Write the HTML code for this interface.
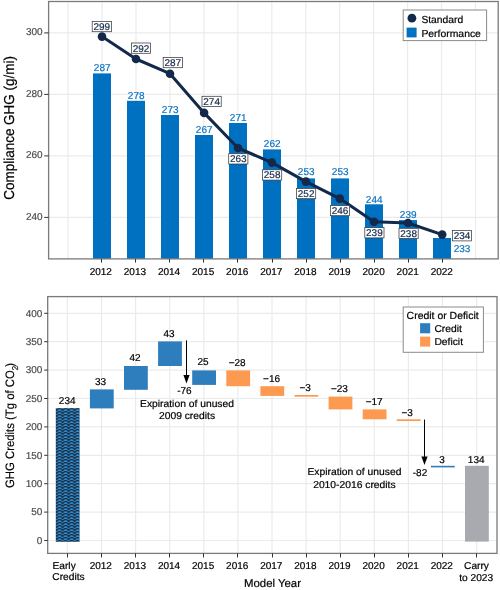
<!DOCTYPE html><html><head><meta charset="utf-8"><style>html,body{margin:0;padding:0;background:#fff;width:500px;height:590px;overflow:hidden}svg{display:block;will-change:transform}text{font-family:"Liberation Sans",sans-serif;text-rendering:geometricPrecision}</style></head><body>
<svg width="500" height="590" viewBox="0 0 500 590">
<defs><pattern id="wave" patternUnits="userSpaceOnUse" x="56.6" y="408.1" width="6" height="3"><rect width="6" height="3" fill="#2a8fd8"/><path d="M-0.2,2.9 C1.6,-0.3 4.4,-0.3 6.2,2.9" stroke="#1a1d26" stroke-width="1.15" fill="none"/></pattern></defs>
<rect width="500" height="590" fill="#fff"/>
<line x1="48.6" x2="498.2" y1="32.9" y2="32.9" stroke="#ebebeb" stroke-width="1.2"/>
<line x1="48.6" x2="498.2" y1="94.4" y2="94.4" stroke="#ebebeb" stroke-width="1.2"/>
<line x1="48.6" x2="498.2" y1="155.9" y2="155.9" stroke="#ebebeb" stroke-width="1.2"/>
<line x1="48.6" x2="498.2" y1="217.4" y2="217.4" stroke="#ebebeb" stroke-width="1.2"/>
<line x1="68.1" x2="68.1" y1="1.5" y2="258.9" stroke="#ebebeb" stroke-width="1.2"/>
<line x1="102.05" x2="102.05" y1="1.5" y2="258.9" stroke="#ebebeb" stroke-width="1.2"/>
<line x1="136" x2="136" y1="1.5" y2="258.9" stroke="#ebebeb" stroke-width="1.2"/>
<line x1="169.95" x2="169.95" y1="1.5" y2="258.9" stroke="#ebebeb" stroke-width="1.2"/>
<line x1="203.9" x2="203.9" y1="1.5" y2="258.9" stroke="#ebebeb" stroke-width="1.2"/>
<line x1="237.85" x2="237.85" y1="1.5" y2="258.9" stroke="#ebebeb" stroke-width="1.2"/>
<line x1="271.8" x2="271.8" y1="1.5" y2="258.9" stroke="#ebebeb" stroke-width="1.2"/>
<line x1="305.75" x2="305.75" y1="1.5" y2="258.9" stroke="#ebebeb" stroke-width="1.2"/>
<line x1="339.7" x2="339.7" y1="1.5" y2="258.9" stroke="#ebebeb" stroke-width="1.2"/>
<line x1="373.65" x2="373.65" y1="1.5" y2="258.9" stroke="#ebebeb" stroke-width="1.2"/>
<line x1="407.6" x2="407.6" y1="1.5" y2="258.9" stroke="#ebebeb" stroke-width="1.2"/>
<line x1="441.55" x2="441.55" y1="1.5" y2="258.9" stroke="#ebebeb" stroke-width="1.2"/>
<line x1="475.5" x2="475.5" y1="1.5" y2="258.9" stroke="#ebebeb" stroke-width="1.2"/>
<rect x="93" y="73.4" width="18" height="185.5" fill="#0070c0"/>
<rect x="127" y="100.8" width="18" height="158.1" fill="#0070c0"/>
<rect x="161" y="115" width="18" height="143.9" fill="#0070c0"/>
<rect x="195" y="135" width="18" height="123.9" fill="#0070c0"/>
<rect x="229" y="123" width="18" height="135.9" fill="#0070c0"/>
<rect x="263" y="149.4" width="18" height="109.5" fill="#0070c0"/>
<rect x="297" y="178.4" width="18" height="80.5" fill="#0070c0"/>
<rect x="331" y="178.4" width="18" height="80.5" fill="#0070c0"/>
<rect x="365" y="204.3" width="18" height="54.6" fill="#0070c0"/>
<rect x="399" y="220.1" width="18" height="38.8" fill="#0070c0"/>
<rect x="433" y="238" width="18" height="20.9" fill="#0070c0"/>
<text transform="translate(102.2,71.2) scale(1.0,1)" font-size="10" fill="#0a72c2" stroke="#0a72c2" stroke-width="0.2" text-anchor="middle">287</text>
<text transform="translate(136.2,99.3) scale(1.0,1)" font-size="10" fill="#0a72c2" stroke="#0a72c2" stroke-width="0.2" text-anchor="middle">278</text>
<text transform="translate(170.2,113.2) scale(1.0,1)" font-size="10" fill="#0a72c2" stroke="#0a72c2" stroke-width="0.2" text-anchor="middle">273</text>
<text transform="translate(204.2,133.2) scale(1.0,1)" font-size="10" fill="#0a72c2" stroke="#0a72c2" stroke-width="0.2" text-anchor="middle">267</text>
<text transform="translate(238.2,121.2) scale(1.0,1)" font-size="10" fill="#0a72c2" stroke="#0a72c2" stroke-width="0.2" text-anchor="middle">271</text>
<text transform="translate(272.2,147.4) scale(1.0,1)" font-size="10" fill="#0a72c2" stroke="#0a72c2" stroke-width="0.2" text-anchor="middle">262</text>
<text transform="translate(306.2,175.4) scale(1.0,1)" font-size="10" fill="#0a72c2" stroke="#0a72c2" stroke-width="0.2" text-anchor="middle">253</text>
<text transform="translate(340.2,175.4) scale(1.0,1)" font-size="10" fill="#0a72c2" stroke="#0a72c2" stroke-width="0.2" text-anchor="middle">253</text>
<text transform="translate(374.2,202.6) scale(1.0,1)" font-size="10" fill="#0a72c2" stroke="#0a72c2" stroke-width="0.2" text-anchor="middle">244</text>
<text transform="translate(408.2,218.3) scale(1.0,1)" font-size="10" fill="#0a72c2" stroke="#0a72c2" stroke-width="0.2" text-anchor="middle">239</text>
<text transform="translate(462,251.6) scale(1.0,1)" font-size="10" fill="#0a72c2" stroke="#0a72c2" stroke-width="0.2" text-anchor="middle">233</text>
<polyline points="102,36.6 136,59 170,73.7 204.1,112.9 238,148 271.9,162.6 305.9,181.6 339.8,198.6 374,221.8 408,223 442.2,234.6" fill="none" stroke="#13294b" stroke-width="3" stroke-linejoin="round"/>
<circle cx="102" cy="36.6" r="4.3" fill="#13294b"/>
<circle cx="136" cy="59" r="4.3" fill="#13294b"/>
<circle cx="170" cy="73.7" r="4.3" fill="#13294b"/>
<circle cx="204.1" cy="112.9" r="4.3" fill="#13294b"/>
<circle cx="238" cy="148" r="4.3" fill="#13294b"/>
<circle cx="271.9" cy="162.6" r="4.3" fill="#13294b"/>
<circle cx="305.9" cy="181.6" r="4.3" fill="#13294b"/>
<circle cx="339.8" cy="198.6" r="4.3" fill="#13294b"/>
<circle cx="374" cy="221.8" r="4.3" fill="#13294b"/>
<circle cx="408" cy="223" r="4.3" fill="#13294b"/>
<circle cx="442.2" cy="234.6" r="4.3" fill="#13294b"/>
<rect x="92.2" y="21.4" width="19.2" height="10.3" fill="#fff" stroke="#3a3a3a" stroke-width="0.75"/>
<text transform="translate(101.8,30) scale(1.02,1)" font-size="9.8" fill="#13294b" stroke="#13294b" stroke-width="0.2" text-anchor="middle">299</text>
<rect x="131.4" y="43" width="19.2" height="10.3" fill="#fff" stroke="#3a3a3a" stroke-width="0.75"/>
<text transform="translate(141,51.6) scale(1.02,1)" font-size="9.8" fill="#13294b" stroke="#13294b" stroke-width="0.2" text-anchor="middle">292</text>
<rect x="163.2" y="57.4" width="19.2" height="10.3" fill="#fff" stroke="#3a3a3a" stroke-width="0.75"/>
<text transform="translate(172.8,66) scale(1.02,1)" font-size="9.8" fill="#13294b" stroke="#13294b" stroke-width="0.2" text-anchor="middle">287</text>
<rect x="202" y="96.3" width="19.2" height="10.3" fill="#fff" stroke="#3a3a3a" stroke-width="0.75"/>
<text transform="translate(211.6,104.9) scale(1.02,1)" font-size="9.8" fill="#13294b" stroke="#13294b" stroke-width="0.2" text-anchor="middle">274</text>
<rect x="228.7" y="153.7" width="19.2" height="10.3" fill="#fff" stroke="#3a3a3a" stroke-width="0.75"/>
<text transform="translate(238.3,162.3) scale(1.02,1)" font-size="9.8" fill="#13294b" stroke="#13294b" stroke-width="0.2" text-anchor="middle">263</text>
<rect x="262.5" y="169.8" width="19.2" height="10.3" fill="#fff" stroke="#3a3a3a" stroke-width="0.75"/>
<text transform="translate(272.1,178.4) scale(1.02,1)" font-size="9.8" fill="#13294b" stroke="#13294b" stroke-width="0.2" text-anchor="middle">258</text>
<rect x="296.5" y="188.4" width="19.2" height="10.3" fill="#fff" stroke="#3a3a3a" stroke-width="0.75"/>
<text transform="translate(306.1,197) scale(1.02,1)" font-size="9.8" fill="#13294b" stroke="#13294b" stroke-width="0.2" text-anchor="middle">252</text>
<rect x="330.4" y="205.4" width="19.2" height="10.3" fill="#fff" stroke="#3a3a3a" stroke-width="0.75"/>
<text transform="translate(340,214) scale(1.02,1)" font-size="9.8" fill="#13294b" stroke="#13294b" stroke-width="0.2" text-anchor="middle">246</text>
<rect x="364.8" y="227.6" width="19.2" height="10.3" fill="#fff" stroke="#3a3a3a" stroke-width="0.75"/>
<text transform="translate(374.4,236.2) scale(1.02,1)" font-size="9.8" fill="#13294b" stroke="#13294b" stroke-width="0.2" text-anchor="middle">239</text>
<rect x="399" y="228.3" width="19.2" height="10.3" fill="#fff" stroke="#3a3a3a" stroke-width="0.75"/>
<text transform="translate(408.6,236.9) scale(1.02,1)" font-size="9.8" fill="#13294b" stroke="#13294b" stroke-width="0.2" text-anchor="middle">238</text>
<rect x="452.4" y="230.6" width="19.2" height="10.3" fill="#fff" stroke="#3a3a3a" stroke-width="0.75"/>
<text transform="translate(462,239.2) scale(1.02,1)" font-size="9.8" fill="#13294b" stroke="#13294b" stroke-width="0.2" text-anchor="middle">234</text>
<rect x="48.6" y="1.5" width="449.6" height="257.4" fill="none" stroke="#7a7a7a" stroke-width="1.3"/>
<line x1="44.2" x2="48.6" y1="32.9" y2="32.9" stroke="#333333" stroke-width="1"/>
<text transform="translate(42.6,35.3) scale(1.0,1)" font-size="10" fill="#4d4d4d" stroke="#4d4d4d" stroke-width="0.2" text-anchor="end">300</text>
<line x1="44.2" x2="48.6" y1="94.4" y2="94.4" stroke="#333333" stroke-width="1"/>
<text transform="translate(42.6,96.8) scale(1.0,1)" font-size="10" fill="#4d4d4d" stroke="#4d4d4d" stroke-width="0.2" text-anchor="end">280</text>
<line x1="44.2" x2="48.6" y1="155.9" y2="155.9" stroke="#333333" stroke-width="1"/>
<text transform="translate(42.6,158.3) scale(1.0,1)" font-size="10" fill="#4d4d4d" stroke="#4d4d4d" stroke-width="0.2" text-anchor="end">260</text>
<line x1="44.2" x2="48.6" y1="217.4" y2="217.4" stroke="#333333" stroke-width="1"/>
<text transform="translate(42.6,219.8) scale(1.0,1)" font-size="10" fill="#4d4d4d" stroke="#4d4d4d" stroke-width="0.2" text-anchor="end">240</text>
<line x1="101.5" x2="101.5" y1="258.9" y2="262.6" stroke="#333333" stroke-width="1"/>
<text transform="translate(100.8,274.7) scale(1.0,1)" font-size="10" fill="#000000" stroke="#000000" stroke-width="0.2" text-anchor="middle">2012</text>
<line x1="135.5" x2="135.5" y1="258.9" y2="262.6" stroke="#333333" stroke-width="1"/>
<text transform="translate(134.9,274.7) scale(1.0,1)" font-size="10" fill="#000000" stroke="#000000" stroke-width="0.2" text-anchor="middle">2013</text>
<line x1="169.5" x2="169.5" y1="258.9" y2="262.6" stroke="#333333" stroke-width="1"/>
<text transform="translate(169,274.7) scale(1.0,1)" font-size="10" fill="#000000" stroke="#000000" stroke-width="0.2" text-anchor="middle">2014</text>
<line x1="203.5" x2="203.5" y1="258.9" y2="262.6" stroke="#333333" stroke-width="1"/>
<text transform="translate(203.1,274.7) scale(1.0,1)" font-size="10" fill="#000000" stroke="#000000" stroke-width="0.2" text-anchor="middle">2015</text>
<line x1="237.5" x2="237.5" y1="258.9" y2="262.6" stroke="#333333" stroke-width="1"/>
<text transform="translate(237.2,274.7) scale(1.0,1)" font-size="10" fill="#000000" stroke="#000000" stroke-width="0.2" text-anchor="middle">2016</text>
<line x1="272.5" x2="272.5" y1="258.9" y2="262.6" stroke="#333333" stroke-width="1"/>
<text transform="translate(271.3,274.7) scale(1.0,1)" font-size="10" fill="#000000" stroke="#000000" stroke-width="0.2" text-anchor="middle">2017</text>
<line x1="306.5" x2="306.5" y1="258.9" y2="262.6" stroke="#333333" stroke-width="1"/>
<text transform="translate(305.4,274.7) scale(1.0,1)" font-size="10" fill="#000000" stroke="#000000" stroke-width="0.2" text-anchor="middle">2018</text>
<line x1="340.5" x2="340.5" y1="258.9" y2="262.6" stroke="#333333" stroke-width="1"/>
<text transform="translate(339.5,274.7) scale(1.0,1)" font-size="10" fill="#000000" stroke="#000000" stroke-width="0.2" text-anchor="middle">2019</text>
<line x1="374.5" x2="374.5" y1="258.9" y2="262.6" stroke="#333333" stroke-width="1"/>
<text transform="translate(373.6,274.7) scale(1.0,1)" font-size="10" fill="#000000" stroke="#000000" stroke-width="0.2" text-anchor="middle">2020</text>
<line x1="408.5" x2="408.5" y1="258.9" y2="262.6" stroke="#333333" stroke-width="1"/>
<text transform="translate(407.7,274.7) scale(1.0,1)" font-size="10" fill="#000000" stroke="#000000" stroke-width="0.2" text-anchor="middle">2021</text>
<line x1="442.5" x2="442.5" y1="258.9" y2="262.6" stroke="#333333" stroke-width="1"/>
<text transform="translate(441.8,274.7) scale(1.0,1)" font-size="10" fill="#000000" stroke="#000000" stroke-width="0.2" text-anchor="middle">2022</text>
<rect x="403.2" y="10" width="83.4" height="30.6" fill="#fff" stroke="#8a8a8a" stroke-width="1"/>
<circle cx="411.9" cy="18.2" r="4.4" fill="#13294b"/>
<rect x="406.6" y="27.6" width="10" height="9.8" fill="#0070c0"/>
<text transform="translate(421.4,23.1) scale(1.01,1)" font-size="10.2" fill="#000000" stroke="#000000" stroke-width="0.2" text-anchor="start">Standard</text>
<text transform="translate(421.4,36.6) scale(1.02,1)" font-size="10.2" fill="#000000" stroke="#000000" stroke-width="0.2" text-anchor="start">Performance</text>
<text transform="translate(14.0,127.9) rotate(-90) scale(0.935,1)" font-size="14.4" fill="#000" stroke="#000" stroke-width="0.2" text-anchor="middle">Compliance GHG (g/mi)</text>
<line x1="47.7" x2="497" y1="540.5" y2="540.5" stroke="#ebebeb" stroke-width="1.2"/>
<line x1="47.7" x2="497" y1="512.1" y2="512.1" stroke="#ebebeb" stroke-width="1.2"/>
<line x1="47.7" x2="497" y1="483.7" y2="483.7" stroke="#ebebeb" stroke-width="1.2"/>
<line x1="47.7" x2="497" y1="455.3" y2="455.3" stroke="#ebebeb" stroke-width="1.2"/>
<line x1="47.7" x2="497" y1="426.9" y2="426.9" stroke="#ebebeb" stroke-width="1.2"/>
<line x1="47.7" x2="497" y1="398.5" y2="398.5" stroke="#ebebeb" stroke-width="1.2"/>
<line x1="47.7" x2="497" y1="370.1" y2="370.1" stroke="#ebebeb" stroke-width="1.2"/>
<line x1="47.7" x2="497" y1="341.7" y2="341.7" stroke="#ebebeb" stroke-width="1.2"/>
<line x1="47.7" x2="497" y1="313.3" y2="313.3" stroke="#ebebeb" stroke-width="1.2"/>
<line x1="67.4" x2="67.4" y1="296.6" y2="553.4" stroke="#ebebeb" stroke-width="1.2"/>
<line x1="101.5" x2="101.5" y1="296.6" y2="553.4" stroke="#ebebeb" stroke-width="1.2"/>
<line x1="135.6" x2="135.6" y1="296.6" y2="553.4" stroke="#ebebeb" stroke-width="1.2"/>
<line x1="169.7" x2="169.7" y1="296.6" y2="553.4" stroke="#ebebeb" stroke-width="1.2"/>
<line x1="203.8" x2="203.8" y1="296.6" y2="553.4" stroke="#ebebeb" stroke-width="1.2"/>
<line x1="237.9" x2="237.9" y1="296.6" y2="553.4" stroke="#ebebeb" stroke-width="1.2"/>
<line x1="272" x2="272" y1="296.6" y2="553.4" stroke="#ebebeb" stroke-width="1.2"/>
<line x1="306.1" x2="306.1" y1="296.6" y2="553.4" stroke="#ebebeb" stroke-width="1.2"/>
<line x1="340.2" x2="340.2" y1="296.6" y2="553.4" stroke="#ebebeb" stroke-width="1.2"/>
<line x1="374.3" x2="374.3" y1="296.6" y2="553.4" stroke="#ebebeb" stroke-width="1.2"/>
<line x1="408.4" x2="408.4" y1="296.6" y2="553.4" stroke="#ebebeb" stroke-width="1.2"/>
<line x1="442.5" x2="442.5" y1="296.6" y2="553.4" stroke="#ebebeb" stroke-width="1.2"/>
<line x1="476.6" x2="476.6" y1="296.6" y2="553.4" stroke="#ebebeb" stroke-width="1.2"/>
<rect x="55.8" y="408.09999999999997" width="23.8" height="133.7" fill="url(#wave)"/>
<rect x="89.9" y="389.4" width="23.8" height="19" fill="#2e7dbd"/>
<rect x="124" y="366.0" width="23.8" height="23.8" fill="#2e7dbd"/>
<rect x="158.1" y="341.4" width="23.8" height="24.6" fill="#2e7dbd"/>
<rect x="192.2" y="370.4" width="23.8" height="14.5" fill="#2e7dbd"/>
<rect x="226.3" y="370.4" width="23.8" height="15.8" fill="#fd9a51"/>
<rect x="260.4" y="386.2" width="23.8" height="9.7" fill="#fd9a51"/>
<rect x="294.5" y="395.0" width="23.8" height="1.7" fill="#fd9a51"/>
<rect x="328.6" y="396.59999999999997" width="23.8" height="12.8" fill="#fd9a51"/>
<rect x="362.7" y="409.4" width="23.8" height="9.9" fill="#fd9a51"/>
<rect x="396.8" y="419.29999999999995" width="23.8" height="1.7" fill="#fd9a51"/>
<rect x="430.9" y="465.79999999999995" width="23.8" height="1.6" fill="#2e7dbd"/>
<rect x="465" y="465.79999999999995" width="23.8" height="75.8" fill="#a9aaaf"/>
<text transform="translate(67.2,403.8) scale(1.0,1)" font-size="10" fill="#000000" stroke="#000000" stroke-width="0.2" text-anchor="middle">234</text>
<text transform="translate(100.6,385.3) scale(1.0,1)" font-size="10" fill="#000000" stroke="#000000" stroke-width="0.2" text-anchor="middle">33</text>
<text transform="translate(135,361.3) scale(1.0,1)" font-size="10" fill="#000000" stroke="#000000" stroke-width="0.2" text-anchor="middle">42</text>
<text transform="translate(169,336.8) scale(1.0,1)" font-size="10" fill="#000000" stroke="#000000" stroke-width="0.2" text-anchor="middle">43</text>
<text transform="translate(203,364.7) scale(1.0,1)" font-size="10" fill="#000000" stroke="#000000" stroke-width="0.2" text-anchor="middle">25</text>
<text transform="translate(237.2,365.7) scale(1.0,1)" font-size="10" fill="#000000" stroke="#000000" stroke-width="0.2" text-anchor="middle">−28</text>
<text transform="translate(271.6,382) scale(1.0,1)" font-size="10" fill="#000000" stroke="#000000" stroke-width="0.2" text-anchor="middle">−16</text>
<text transform="translate(305.2,391) scale(1.0,1)" font-size="10" fill="#000000" stroke="#000000" stroke-width="0.2" text-anchor="middle">−3</text>
<text transform="translate(339.4,392.3) scale(1.0,1)" font-size="10" fill="#000000" stroke="#000000" stroke-width="0.2" text-anchor="middle">−23</text>
<text transform="translate(374.2,405) scale(1.0,1)" font-size="10" fill="#000000" stroke="#000000" stroke-width="0.2" text-anchor="middle">−17</text>
<text transform="translate(407.2,416.2) scale(1.0,1)" font-size="10" fill="#000000" stroke="#000000" stroke-width="0.2" text-anchor="middle">−3</text>
<text transform="translate(442,462.8) scale(1.0,1)" font-size="10" fill="#000000" stroke="#000000" stroke-width="0.2" text-anchor="middle">3</text>
<text transform="translate(476.2,462.8) scale(1.0,1)" font-size="10" fill="#000000" stroke="#000000" stroke-width="0.2" text-anchor="middle">134</text>
<text transform="translate(184.4,393.7) scale(1.0,1)" font-size="10" fill="#000000" stroke="#000000" stroke-width="0.2" text-anchor="middle">-76</text>
<text transform="translate(420,475.6) scale(1.0,1)" font-size="10" fill="#000000" stroke="#000000" stroke-width="0.2" text-anchor="middle">-82</text>
<line x1="186.5" x2="186.5" y1="340.4" y2="378.6" stroke="#000" stroke-width="1"/>
<path d="M183.4,375 L189.6,375 L186.5,383.6 Z" fill="#000"/>
<line x1="424.5" x2="424.5" y1="419.6" y2="460" stroke="#000" stroke-width="1"/>
<path d="M421.4,456.4 L427.6,456.4 L424.5,465 Z" fill="#000"/>
<text transform="translate(187,406.9) scale(1.03,1)" font-size="10" fill="#000000" stroke="#000000" stroke-width="0.2" text-anchor="middle">Expiration of unused</text>
<text transform="translate(187,418.8) scale(1.03,1)" font-size="10" fill="#000000" stroke="#000000" stroke-width="0.2" text-anchor="middle">2009 credits</text>
<text transform="translate(354.4,474.8) scale(1.03,1)" font-size="10" fill="#000000" stroke="#000000" stroke-width="0.2" text-anchor="middle">Expiration of unused</text>
<text transform="translate(354.4,487.9) scale(1.03,1)" font-size="10" fill="#000000" stroke="#000000" stroke-width="0.2" text-anchor="middle">2010-2016 credits</text>
<rect x="47.7" y="296.6" width="449.3" height="256.8" fill="none" stroke="#7a7a7a" stroke-width="1.3"/>
<line x1="44.2" x2="47.7" y1="540.5" y2="540.5" stroke="#333333" stroke-width="1"/>
<text transform="translate(42.4,543.8) scale(1.0,1)" font-size="10" fill="#4d4d4d" stroke="#4d4d4d" stroke-width="0.2" text-anchor="end">0</text>
<line x1="44.2" x2="47.7" y1="512.1" y2="512.1" stroke="#333333" stroke-width="1"/>
<text transform="translate(42.4,515.4) scale(1.0,1)" font-size="10" fill="#4d4d4d" stroke="#4d4d4d" stroke-width="0.2" text-anchor="end">50</text>
<line x1="44.2" x2="47.7" y1="483.7" y2="483.7" stroke="#333333" stroke-width="1"/>
<text transform="translate(42.4,487) scale(1.0,1)" font-size="10" fill="#4d4d4d" stroke="#4d4d4d" stroke-width="0.2" text-anchor="end">100</text>
<line x1="44.2" x2="47.7" y1="455.3" y2="455.3" stroke="#333333" stroke-width="1"/>
<text transform="translate(42.4,458.6) scale(1.0,1)" font-size="10" fill="#4d4d4d" stroke="#4d4d4d" stroke-width="0.2" text-anchor="end">150</text>
<line x1="44.2" x2="47.7" y1="426.9" y2="426.9" stroke="#333333" stroke-width="1"/>
<text transform="translate(42.4,430.2) scale(1.0,1)" font-size="10" fill="#4d4d4d" stroke="#4d4d4d" stroke-width="0.2" text-anchor="end">200</text>
<line x1="44.2" x2="47.7" y1="398.5" y2="398.5" stroke="#333333" stroke-width="1"/>
<text transform="translate(42.4,401.8) scale(1.0,1)" font-size="10" fill="#4d4d4d" stroke="#4d4d4d" stroke-width="0.2" text-anchor="end">250</text>
<line x1="44.2" x2="47.7" y1="370.1" y2="370.1" stroke="#333333" stroke-width="1"/>
<text transform="translate(42.4,373.4) scale(1.0,1)" font-size="10" fill="#4d4d4d" stroke="#4d4d4d" stroke-width="0.2" text-anchor="end">300</text>
<line x1="44.2" x2="47.7" y1="341.7" y2="341.7" stroke="#333333" stroke-width="1"/>
<text transform="translate(42.4,345) scale(1.0,1)" font-size="10" fill="#4d4d4d" stroke="#4d4d4d" stroke-width="0.2" text-anchor="end">350</text>
<line x1="44.2" x2="47.7" y1="313.3" y2="313.3" stroke="#333333" stroke-width="1"/>
<text transform="translate(42.4,316.6) scale(1.0,1)" font-size="10" fill="#4d4d4d" stroke="#4d4d4d" stroke-width="0.2" text-anchor="end">400</text>
<line x1="67.5" x2="67.5" y1="553.4" y2="557.5" stroke="#333333" stroke-width="1"/>
<line x1="101.5" x2="101.5" y1="553.4" y2="557.5" stroke="#333333" stroke-width="1"/>
<line x1="135.5" x2="135.5" y1="553.4" y2="557.5" stroke="#333333" stroke-width="1"/>
<line x1="169.5" x2="169.5" y1="553.4" y2="557.5" stroke="#333333" stroke-width="1"/>
<line x1="203.5" x2="203.5" y1="553.4" y2="557.5" stroke="#333333" stroke-width="1"/>
<line x1="237.5" x2="237.5" y1="553.4" y2="557.5" stroke="#333333" stroke-width="1"/>
<line x1="272.5" x2="272.5" y1="553.4" y2="557.5" stroke="#333333" stroke-width="1"/>
<line x1="306.5" x2="306.5" y1="553.4" y2="557.5" stroke="#333333" stroke-width="1"/>
<line x1="340.5" x2="340.5" y1="553.4" y2="557.5" stroke="#333333" stroke-width="1"/>
<line x1="374.5" x2="374.5" y1="553.4" y2="557.5" stroke="#333333" stroke-width="1"/>
<line x1="408.5" x2="408.5" y1="553.4" y2="557.5" stroke="#333333" stroke-width="1"/>
<line x1="442.5" x2="442.5" y1="553.4" y2="557.5" stroke="#333333" stroke-width="1"/>
<line x1="476.5" x2="476.5" y1="553.4" y2="557.5" stroke="#333333" stroke-width="1"/>
<text transform="translate(100.8,569) scale(1.0,1)" font-size="10" fill="#000000" stroke="#000000" stroke-width="0.2" text-anchor="middle">2012</text>
<text transform="translate(134.9,569) scale(1.0,1)" font-size="10" fill="#000000" stroke="#000000" stroke-width="0.2" text-anchor="middle">2013</text>
<text transform="translate(169,569) scale(1.0,1)" font-size="10" fill="#000000" stroke="#000000" stroke-width="0.2" text-anchor="middle">2014</text>
<text transform="translate(203.1,569) scale(1.0,1)" font-size="10" fill="#000000" stroke="#000000" stroke-width="0.2" text-anchor="middle">2015</text>
<text transform="translate(237.2,569) scale(1.0,1)" font-size="10" fill="#000000" stroke="#000000" stroke-width="0.2" text-anchor="middle">2016</text>
<text transform="translate(271.3,569) scale(1.0,1)" font-size="10" fill="#000000" stroke="#000000" stroke-width="0.2" text-anchor="middle">2017</text>
<text transform="translate(305.4,569) scale(1.0,1)" font-size="10" fill="#000000" stroke="#000000" stroke-width="0.2" text-anchor="middle">2018</text>
<text transform="translate(339.5,569) scale(1.0,1)" font-size="10" fill="#000000" stroke="#000000" stroke-width="0.2" text-anchor="middle">2019</text>
<text transform="translate(373.6,569) scale(1.0,1)" font-size="10" fill="#000000" stroke="#000000" stroke-width="0.2" text-anchor="middle">2020</text>
<text transform="translate(407.7,569) scale(1.0,1)" font-size="10" fill="#000000" stroke="#000000" stroke-width="0.2" text-anchor="middle">2021</text>
<text transform="translate(441.8,569) scale(1.0,1)" font-size="10" fill="#000000" stroke="#000000" stroke-width="0.2" text-anchor="middle">2022</text>
<text transform="translate(52.5,568.6) scale(1.02,1)" font-size="10" fill="#000000" stroke="#000000" stroke-width="0.2" text-anchor="start">Early</text>
<text transform="translate(52.3,580.2) scale(1.02,1)" font-size="10" fill="#000000" stroke="#000000" stroke-width="0.2" text-anchor="start">Credits</text>
<text transform="translate(476.5,569) scale(1.02,1)" font-size="10" fill="#000000" stroke="#000000" stroke-width="0.2" text-anchor="middle">Carry</text>
<text transform="translate(476.2,580.6) scale(1.02,1)" font-size="10" fill="#000000" stroke="#000000" stroke-width="0.2" text-anchor="middle">to 2023</text>
<text x="272.5" y="586.8" font-size="11.4" fill="#000" stroke="#000" stroke-width="0.2" text-anchor="middle">Model Year</text>
<rect x="403.2" y="307" width="80.2" height="45.3" fill="#fff" stroke="#8a8a8a" stroke-width="1"/>
<text transform="translate(406.6,319.1) scale(1.015,1)" font-size="10.3" fill="#000000" stroke="#000000" stroke-width="0.2" text-anchor="start">Credit or Deficit</text>
<rect x="420.1" y="323.2" width="10.1" height="10.1" fill="#2e7dbd"/>
<rect x="420.1" y="336.6" width="10.1" height="10" fill="#fd9a51"/>
<text transform="translate(434.4,332) scale(1.03,1)" font-size="10" fill="#000000" stroke="#000000" stroke-width="0.2" text-anchor="start">Credit</text>
<text transform="translate(434.4,344.8) scale(1.03,1)" font-size="10" fill="#000000" stroke="#000000" stroke-width="0.2" text-anchor="start">Deficit</text>
<text transform="translate(14.2,425.5) rotate(-90) scale(0.93,1)" font-size="12.2" fill="#000" stroke="#000" stroke-width="0.15" text-anchor="middle">GHG Credits (Tg of CO<tspan font-size="8.6" dy="3.7">2</tspan><tspan dy="-3.7" dx="-1.1">)</tspan></text>
</svg></body></html>
